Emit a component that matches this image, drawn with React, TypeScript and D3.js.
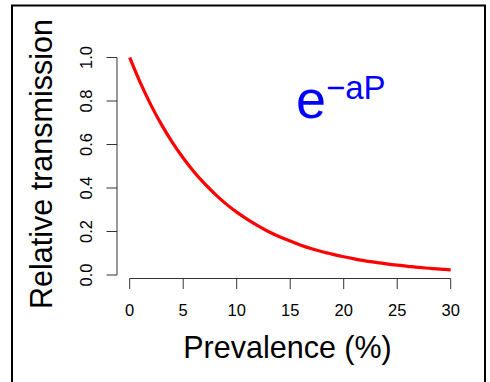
import React from "react";
import * as d3 from "d3";

const prevalence = [0, 1, 2, 3, 4, 5, 6, 7, 8, 9, 10, 11, 12, 13, 14, 15, 16, 17, 18, 19, 20, 21, 22, 23, 24, 25, 26, 27, 28, 29, 30];
const transmission = [1.0, 0.883, 0.78, 0.689, 0.609, 0.538, 0.475, 0.42, 0.371, 0.327, 0.289, 0.256, 0.226, 0.199, 0.176, 0.156, 0.137, 0.121, 0.107, 0.095, 0.084, 0.074, 0.065, 0.058, 0.051, 0.045, 0.04, 0.035, 0.031, 0.027, 0.024];
const xTicks = [0, 5, 10, 15, 20, 25, 30];
const yTicks = [0, 0.2, 0.4, 0.6, 0.8, 1.0];

const W = 490;
const H = 382;
const FONT = "'Liberation Sans', Arial, Helvetica, sans-serif";

export default function App() {
  const x = d3.scaleLinear().domain([0, 30]).range([129.7, 450.7]);
  const y = d3.scaleLinear().domain([0, 1]).range([275, 57.5]);
  const data = prevalence.map((p, i) => [p, transmission[i]] as [number, number]);
  const line = d3
    .line<[number, number]>()
    .x((d) => x(d[0]))
    .y((d) => y(d[1]))
    .curve(d3.curveMonotoneX);
  const axisY = 278.5;
  const axisX = 117;
  return (
    <svg
      width={W}
      height={H}
      style={{ position: "absolute", left: 0, top: 0, display: "block", background: "#fff" }}
      fontFamily={FONT}
    >
      <rect x={12} y={5.5} width={473} height={400} fill="#fff" stroke="#000" strokeWidth={2} />
      {/* x axis */}
      <line x1={x(0)} x2={x(30)} y1={axisY} y2={axisY} stroke="#333" strokeWidth={1} />
      {xTicks.map((t) => (
        <g key={"x" + t}>
          <line x1={x(t)} x2={x(t)} y1={axisY} y2={axisY + 10.5} stroke="#333" strokeWidth={1} />
          <text x={x(t)} y={316} textAnchor="middle" fontSize={16.5} fill="#000">
            {t}
          </text>
        </g>
      ))}
      {/* y axis */}
      <line x1={axisX} x2={axisX} y1={y(0)} y2={y(1)} stroke="#333" strokeWidth={1} />
      {yTicks.map((t) => (
        <g key={"y" + t}>
          <line x1={axisX - 10.5} x2={axisX} y1={y(t)} y2={y(t)} stroke="#333" strokeWidth={1} />
          <text
            transform={`translate(92,${y(t)}) rotate(-90)`}
            textAnchor="middle"
            fontSize={16.5}
            fill="#000"
          >
            {t.toFixed(1)}
          </text>
        </g>
      ))}
      <path d={line(data) || ""} fill="none" stroke="#ff0000" strokeWidth={3.2} />
      <text x={287.5} y={358} textAnchor="middle" fontSize={30.5} fill="#000">
        Prevalence (%)
      </text>
      <text
        transform={`translate(52,164) rotate(-90)`}
        textAnchor="middle"
        fontSize={30.5}
        fill="#000"
      >
        Relative transmission
      </text>
      <text x={296} y={117.5} fontSize={54} fill="#0000ff">
        e
      </text>
      <text x={326} y={99} fontSize={33} fill="#0000ff">
        −aP
      </text>
    </svg>
  );
}
